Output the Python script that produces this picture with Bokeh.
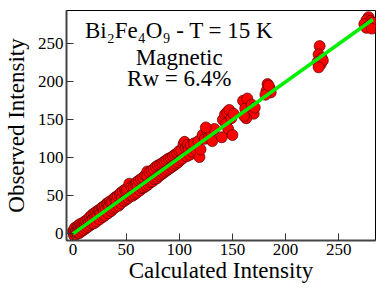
from bokeh.plotting import figure
from bokeh.models import Label, FixedTicker, Range1d, ColumnDataSource
from bokeh.embed import file_html
from bokeh.resources import INLINE

calc = [0, 1, 1, 2, 2, 3, 3, 4, 4, 5, 5, 6, 6, 7, 7, 8, 8, 9, 10, 10, 11, 12, 12, 13, 14, 14,
        15, 16, 16, 17, 18, 18, 19, 20, 20, 21, 22, 22, 23, 24, 25, 25, 26, 27, 28, 28, 29, 30,
        30, 31, 32, 33, 33, 34, 35, 36, 36, 37, 38, 39, 40, 40, 41, 42, 43, 44, 45, 45, 46, 47,
        48, 49, 50, 50, 51, 52, 53, 54, 55, 56, 57, 58, 59, 60, 60, 61, 62, 63, 64, 65, 66, 67,
        68, 69, 70, 70, 71, 72, 73, 74, 75, 76, 77, 78, 79, 80, 81, 82, 83, 84, 85, 86, 87, 88,
        89, 90, 91, 92, 93, 94, 95, 96, 97, 98, 99, 100, 101, 102, 103, 104, 105, 106, 107, 108,
        109, 110, 111, 112, 114, 116, 118, 119, 120,
        122, 124, 126, 128, 130, 131, 133, 125,
        141, 143, 145, 147, 144, 149, 151, 146, 150, 140,
        160, 162, 164, 166, 168, 170, 163, 171, 161,
        183, 185, 182, 186, 181, 184,
        232, 231, 234, 230, 233, 235, 231,
        278, 276, 280, 274, 279, 282, 276, 281]
obs = [3, -2, 5, 1, 8, 4, -1, 9, 2, 6, 11, 1, 9, 5, 13, 3, 11, 8, 15, 5, 12, 17, 7, 11, 19, 9,
       15, 22, 11, 18, 25, 13, 20, 27, 14, 22, 29, 16, 24, 31, 19, 30, 27, 34, 22, 35, 30, 37,
       24, 33, 40, 27, 40, 36, 43, 30, 41, 42, 33, 47, 35, 48, 43, 50, 37, 52, 40, 54, 47, 56,
       43, 58, 45, 56, 58, 47, 66, 50, 62, 50, 62, 52, 66, 54, 68, 63, 70, 57, 72, 60, 74, 61,
       77, 63, 82, 76, 65, 81, 68, 83, 69, 85, 72, 88, 73, 90, 76, 91, 78, 93, 80, 95, 82, 97,
       84, 99, 86, 100, 88, 102, 90, 104, 92, 106, 94, 109, 97, 110, 99, 118, 121, 113, 102, 117,
       112, 104, 116, 108, 119, 110, 122, 101, 111,
       130, 125, 136, 128, 133, 122, 138, 140,
       150, 157, 160, 163, 145, 152, 158, 138, 130, 127,
       175, 165, 178, 160, 170, 158, 152, 166, 155,
       197, 192, 188, 186, 183, 195,
       247, 236, 231, 226, 223, 228, 219,
       285, 281, 280, 276, 274, 278, 271, 270]

fit_x = [0, 282]
fit_y = [0, 282]

x_ticks = [0, 50, 100, 150, 200, 250]
y_ticks = [0, 50, 100, 150, 200, 250]

SERIF = "Liberation Serif"

p = figure(width=382, height=288, output_backend="svg", toolbar_location=None,
           x_range=Range1d(-6, 284.5), y_range=Range1d(-8.8, 293.8),
           min_border_left=63, min_border_right=7, min_border_top=10, min_border_bottom=48)

p.grid.visible = False
p.background_fill_color = "white"
p.border_fill_color = "white"
p.outline_line_color = "black"
p.outline_line_width = 1

for ax, ticks in ((p.xaxis[0], x_ticks), (p.yaxis[0], y_ticks)):
    ax.ticker = FixedTicker(ticks=ticks)
    ax.major_tick_in = 7
    ax.major_tick_out = 0
    ax.minor_tick_line_color = None
    ax.major_tick_line_color = "#333333"
    ax.major_tick_line_width = 1
    ax.axis_line_color = "#444444"
    ax.axis_line_width = 2
    ax.major_label_text_font = SERIF
    ax.major_label_text_font_size = "17px"
    ax.major_label_text_color = "black"
    ax.axis_label_text_font = SERIF
    ax.axis_label_text_font_size = "23px"
    ax.axis_label_text_font_style = "normal"
    ax.axis_label_text_color = "black"

p.xaxis.axis_label = "Calculated Intensity"
p.yaxis.axis_label = "Observed Intensity"
p.xaxis.major_label_standoff = 3
p.xaxis.axis_label_standoff = 0
p.yaxis.major_label_standoff = 3
p.yaxis.axis_label_standoff = 6

src = ColumnDataSource(data=dict(x=calc, y=obs))
p.scatter("x", "y", source=src, size=11, fill_color="#ff0000", line_color="#550000",
          line_width=0.7)

p.line(fit_x, fit_y, line_color="#00f000", line_width=3.5)

for txt, ty in (("Bi\u2082Fe\u2084O\u2089 - T = 15 K", 267.5), ("Magnetic", 232), ("Rw = 6.4%", 204.5)):
    p.add_layout(Label(x=100, y=ty, text=txt, text_align="center",
                       text_baseline="alphabetic", text_font=SERIF, text_font_size="23px",
                       text_color="black"))

open("out.html", "w").write(file_html(p, INLINE))
